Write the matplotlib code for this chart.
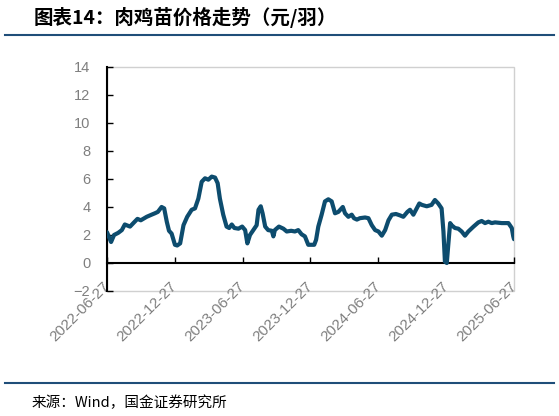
import matplotlib
matplotlib.use("Agg")
import matplotlib.pyplot as plt
import pandas as pd
from matplotlib.lines import Line2D

plt.rcParams['font.family'] = ['Liberation Sans', 'Noto Sans CJK SC', 'DejaVu Sans']

# price of broiler chicks, yuan per bird
dates = [
    "2022-06-27", "2022-07-08", "2022-07-16", "2022-07-27", "2022-08-06", "2022-08-14",
    "2022-08-28", "2022-09-06", "2022-09-17", "2022-09-26", "2022-10-12", "2022-10-25",
    "2022-11-03", "2022-11-11", "2022-11-21", "2022-11-28", "2022-12-05", "2022-12-11",
    "2022-12-18", "2022-12-27", "2023-01-02", "2023-01-10", "2023-01-19", "2023-01-29",
    "2023-02-10", "2023-02-19", "2023-02-28", "2023-03-09", "2023-03-18", "2023-03-27",
    "2023-04-05", "2023-04-14", "2023-04-21", "2023-04-27", "2023-05-06", "2023-05-15",
    "2023-05-22", "2023-05-29", "2023-06-05", "2023-06-16", "2023-06-26", "2023-07-04",
    "2023-07-10", "2023-07-17", "2023-07-26", "2023-08-04", "2023-08-09", "2023-08-15",
    "2023-08-20", "2023-08-27", "2023-09-04", "2023-09-14", "2023-09-18", "2023-09-22",
    "2023-10-03", "2023-10-15", "2023-10-24", "2023-11-05", "2023-11-15", "2023-11-24",
    "2023-12-03", "2023-12-12", "2023-12-21", "2023-12-30", "2024-01-06", "2024-01-11",
    "2024-01-17", "2024-01-26", "2024-02-04", "2024-02-13", "2024-02-22", "2024-03-02",
    "2024-03-11", "2024-03-23", "2024-03-29", "2024-04-07", "2024-04-16", "2024-04-22",
    "2024-04-30", "2024-05-08", "2024-05-22", "2024-05-31", "2024-06-09", "2024-06-18",
    "2024-06-27", "2024-07-06", "2024-07-15", "2024-07-24", "2024-08-02", "2024-08-13",
    "2024-08-24", "2024-09-02", "2024-09-13", "2024-09-20", "2024-09-29", "2024-10-08",
    "2024-10-15", "2024-10-22", "2024-11-04", "2024-11-17", "2024-11-26", "2024-12-05",
    "2024-12-14", "2024-12-19", "2024-12-23", "2024-12-28", "2025-01-01", "2025-01-06",
    "2025-01-10", "2025-01-19", "2025-01-28", "2025-02-06", "2025-02-15", "2025-02-24",
    "2025-03-10", "2025-03-23", "2025-04-01", "2025-04-10", "2025-04-19", "2025-04-28",
    "2025-05-07", "2025-05-25", "2025-06-12", "2025-06-21", "2025-06-25", "2025-06-27",
]
prices = [
    2.2, 1.5, 2.0, 2.15, 2.35, 2.75,
    2.6, 2.85, 3.15, 3.05, 3.3, 3.45,
    3.55, 3.65, 4.0, 3.9, 2.95, 2.3,
    2.1, 1.3, 1.25, 1.4, 2.7, 3.3,
    3.8, 3.9, 4.6, 5.8, 6.05, 5.95,
    6.17, 6.1, 5.7, 4.6, 3.45, 2.6,
    2.5, 2.75, 2.5, 2.45, 2.6, 2.35,
    1.4, 2.0, 2.35, 2.7, 3.8, 4.05,
    3.55, 2.6, 2.35, 2.3, 1.9, 2.35,
    2.6, 2.45, 2.25, 2.3, 2.25, 2.35,
    2.05, 1.9, 1.3, 1.3, 1.3, 1.65,
    2.6, 3.45, 4.4, 4.55, 4.4, 3.55,
    3.65, 4.0, 3.55, 3.3, 3.45, 3.2,
    3.1, 3.2, 3.25, 3.2, 2.7, 2.35,
    2.25, 1.95, 2.35, 3.05, 3.45, 3.5,
    3.4, 3.3, 3.65, 3.8, 3.45, 3.9,
    4.25, 4.15, 4.05, 4.15, 4.5, 4.25,
    3.9, 2.25, 0.1, 0.0, 1.3, 2.85,
    2.7, 2.5, 2.45, 2.25, 1.95, 2.25,
    2.6, 2.9, 3.0, 2.85, 2.95, 2.85,
    2.9, 2.85, 2.85, 2.5, 1.9, 1.7,
]
tick_dates = ["2022-06-27", "2022-12-27", "2023-06-27", "2023-12-27",
              "2024-06-27", "2024-12-27", "2025-06-27"]
y_ticks = [-2, 0, 2, 4, 6, 8, 10, 12, 14]

line_color = '#0d4c6e'
label_gray = '#7f7f7f'
rule_color = '#1f4e79'

fig = plt.figure(figsize=(5.59, 4.16), dpi=100)
ax = fig.add_axes([0.1914, 0.3005, 0.7281, 0.5385])

x = pd.to_datetime(dates)
ax.plot(x, prices, color=line_color, linewidth=3, solid_capstyle='round',
        solid_joinstyle='round', zorder=3)

ax.set_ylim(-2, 14)
ax.set_yticks(y_ticks)
ax.set_xlim(pd.Timestamp(tick_dates[0]), pd.Timestamp(tick_dates[-1]))

# light gray frame around the plot area, black y axis, black x axis at zero
ax.patch.set_edgecolor('#d0d0d0')
ax.patch.set_linewidth(1.0)
ax.spines['top'].set_visible(False)
ax.spines['right'].set_visible(False)
ax.spines['left'].set_color('black')
ax.spines['left'].set_linewidth(1.5)
ax.spines['bottom'].set_position(('data', 0))
ax.spines['bottom'].set_color('black')
ax.spines['bottom'].set_linewidth(1.5)

ax.tick_params(axis='y', direction='in', length=4, width=1, pad=12,
               labelsize=10.5, labelcolor=label_gray)
ax.tick_params(axis='x', direction='in', length=4, width=1, pad=15,
               labelsize=11, labelcolor=label_gray)

ax.set_xticks(pd.to_datetime(tick_dates))
ax.set_xticklabels(tick_dates)
for lab in ax.get_xticklabels():
    lab.set_rotation(45)
    lab.set_ha('right')
    lab.set_va('center')
    lab.set_rotation_mode('anchor')

# header and footer
fig.text(0.061, 0.958, "图表14：肉鸡苗价格走势（元/羽）", fontsize=14,
         fontweight='bold', fontstyle='italic', va='center', ha='left',
         family=['Noto Sans CJK SC', 'DejaVu Sans'])
fig.add_artist(Line2D([5 / 559, 554 / 559], [0.916, 0.916], color=rule_color,
                      linewidth=1.5, transform=fig.transFigure))
fig.add_artist(Line2D([5 / 559, 554 / 559], [0.0793, 0.0793], color=rule_color,
                      linewidth=1.5, transform=fig.transFigure))
fig.text(0.057, 0.031, "来源：Wind，国金证券研究所", fontsize=10.5,
         va='center', ha='left', family=['Noto Sans CJK SC', 'DejaVu Sans'])

fig.savefig("out.png", dpi=100)
